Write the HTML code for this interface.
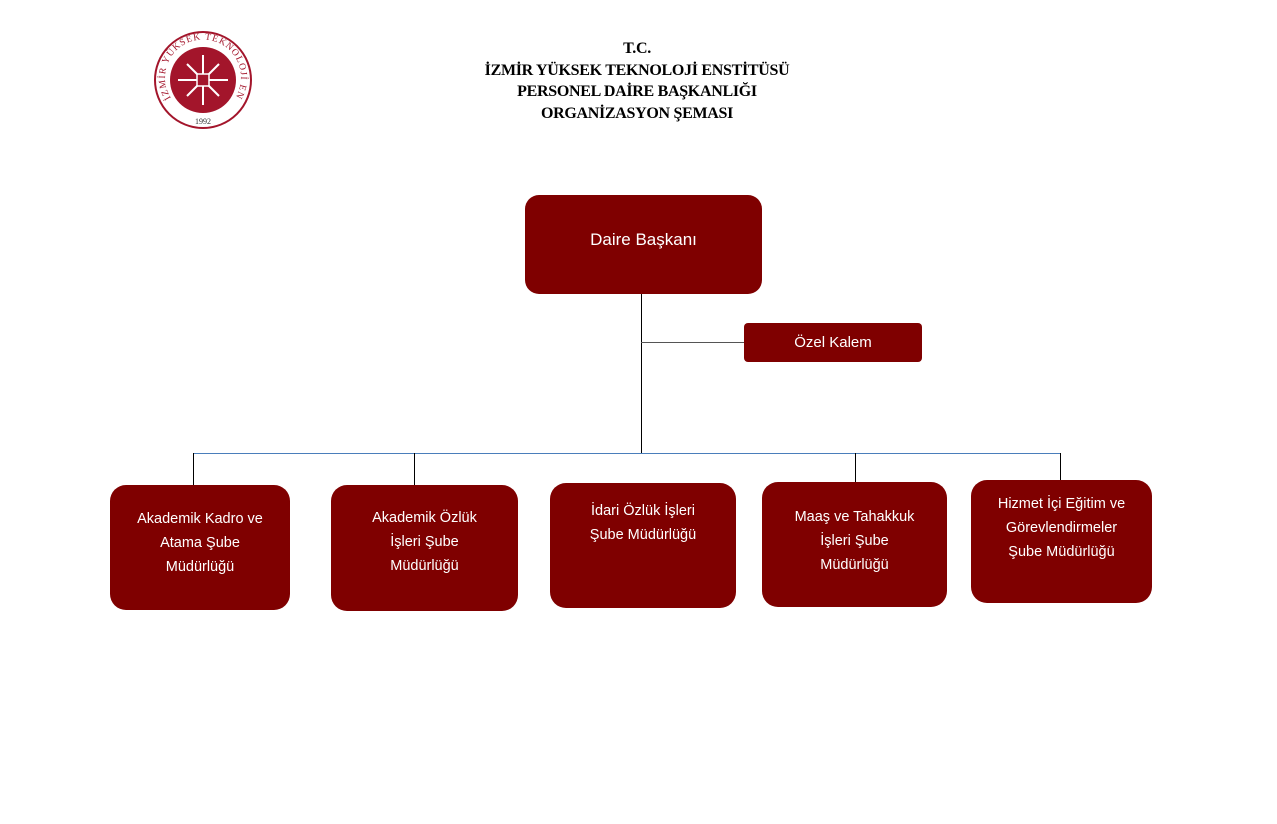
<!DOCTYPE html>
<html><head><meta charset="utf-8"><style>
html,body{margin:0;padding:0;background:#fff;}
body{width:1277px;height:824px;position:relative;overflow:hidden;font-family:"Liberation Sans",sans-serif;}
.b{position:absolute;background:#7f0000;color:#fff;text-align:center;box-sizing:border-box;}
.s{border-radius:16px;font-size:14.5px;line-height:24px;}
.l{position:absolute;background:#000;}
.t{position:absolute;left:437px;width:400px;text-align:center;font-family:"Liberation Serif",serif;font-weight:bold;font-size:16px;line-height:21.5px;top:38px;color:#000;letter-spacing:-0.3px;}
</style></head><body>
<svg style="position:absolute;left:150px;top:28px" width="106" height="106" viewBox="0 0 106 106">
<circle cx="53" cy="52" r="48" fill="none" stroke="#a3152b" stroke-width="2"/>
<circle cx="53" cy="52" r="33" fill="#a3152b"/>
<defs><path id="arc" d="M 21 70 A 38 38 0 1 1 85 70"/></defs>
<text font-family="Liberation Serif,serif" font-size="9.5" fill="#a3152b" letter-spacing="1"><textPath href="#arc">İZMİR YÜKSEK TEKNOLOJİ ENSTİTÜSÜ</textPath></text>
<text x="53" y="96" text-anchor="middle" font-family="Liberation Serif,serif" font-size="8" fill="#333">1992</text>
<g stroke="#fff" stroke-width="2">
<line x1="53" y1="27" x2="53" y2="77"/><line x1="28" y1="52" x2="78" y2="52"/>
<line x1="37" y1="36" x2="69" y2="68"/><line x1="69" y1="36" x2="37" y2="68"/>
</g>
<rect x="47" y="46" width="12" height="12" fill="#a3152b" stroke="#fff" stroke-width="1.5"/>
</svg>
<div class="t">T.C.<br>İZMİR YÜKSEK TEKNOLOJİ ENSTİTÜSÜ<br>PERSONEL DAİRE BAŞKANLIĞI<br>ORGANİZASYON ŞEMASI</div>

<div class="l" style="left:641px;top:294px;width:1px;height:160px"></div>
<div class="l" style="left:641px;top:342px;width:103px;height:1px;background:#555"></div>
<div class="l" style="left:193px;top:453px;width:868px;height:1px;background:#4a7ebb"></div>
<div class="l" style="left:193px;top:453px;width:1px;height:32px"></div>
<div class="l" style="left:414px;top:453px;width:1px;height:32px"></div>
<div class="l" style="left:855px;top:453px;width:1px;height:29px"></div>
<div class="l" style="left:1060px;top:453px;width:1px;height:27px"></div>

<div class="b" style="left:525px;top:195px;width:237px;height:99px;border-radius:14px;font-size:17px;line-height:20px;padding-top:35px">Daire Başkanı</div>
<div class="b" style="left:744px;top:323px;width:178px;height:39px;border-radius:4px;font-size:15px;line-height:40px">Özel Kalem</div>

<div class="b s" style="left:110px;top:485px;width:180px;height:125px;padding-top:22px">Akademik Kadro ve<br>Atama Şube<br>Müdürlüğü</div>
<div class="b s" style="left:331px;top:485px;width:187px;height:126px;padding-top:21px">Akademik Özlük<br>İşleri Şube<br>Müdürlüğü</div>
<div class="b s" style="left:550px;top:483px;width:186px;height:125px;padding-top:16px">İdari Özlük İşleri<br>Şube Müdürlüğü</div>
<div class="b s" style="left:762px;top:482px;width:185px;height:125px;padding-top:23px">Maaş ve Tahakkuk<br>İşleri Şube<br>Müdürlüğü</div>
<div class="b s" style="left:971px;top:480px;width:181px;height:123px;padding-top:12px">Hizmet İçi Eğitim ve<br>Görevlendirmeler<br>Şube Müdürlüğü</div>
</body></html>
